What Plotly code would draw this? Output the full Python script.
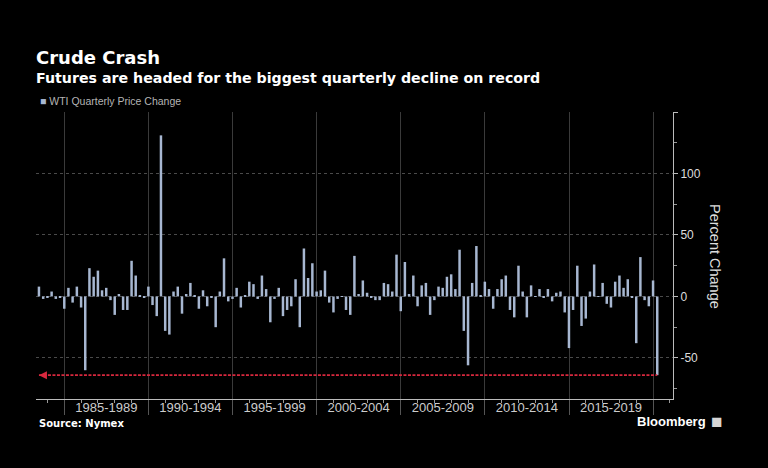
import pandas as pd
import plotly.graph_objects as go

# ---- data ----
first_quarter = "1983Q2"
last_quarter = "2020Q1"

wti_change_1983_1989 = [8, -2, -1, 4, -2, -1, -10, 7, -5, 8, -9, -60, 23, 16, 21, 5, 7, -3, -15,
                        2, -11, -11, 29, 17, 0.5, -0.7, 8]
wti_change_1990_1999 = [-7, -16, 131, -28, -31, 4, 8, -14, 2, 11, 0.5, -10, 5, -8, -1, -25, 4, 31,
                        -4, -2, 7, -9, 1, 12, 10, -2, 17, 6, -21, -2, 7, -16, -11, -8, 14, -25,
                        39, 15, 27, 4]
wti_change_2000_2009 = [5, 21, -5, -13, -2, -0.3, -11, -15, 33, 2, 13, 3, -0.5, -3, -3, 11, 10, 4,
                        34, -12, 28, 2, 17, -8, 9, 11, -15, -3, 8, 7, 16, 18, 6, 38, -28, -56,
                        11, 41, 1, 12]
wti_change_2010_2020 = [6, -10, 6, 14, 17, -11, -17, 25, 4, -17, 9, -0.4, 6, -0.7, 6, -4, 3, 4,
                        -13, -42, -11, 25, -24, -18, 4, 26, -0.2, 11, -6, -9, 12, 17, 7, 14, -1,
                        -38, 32, -3, -8, 13, -64]

period_starts = ["1985-01-01", "1990-01-01", "1995-01-01", "2000-01-01",
                 "2005-01-01", "2010-01-01", "2015-01-01", "2020-01-01"]
period_labels = ["1985-1989", "1990-1994", "1995-1999", "2000-2004",
                 "2005-2009", "2010-2014", "2015-2019", ""]
y_tick_values = [-50, 0, 50, 100, 150]
y_tick_labels = ["-50", "0", "50", "100", ""]

values = wti_change_1983_1989 + wti_change_1990_1999 + wti_change_2000_2009 + wti_change_2010_2020
quarters = pd.period_range(first_quarter, last_quarter, freq="Q")
dates = [p.end_time.normalize() for p in quarters]

BAR = "#a7b7d1"
RED = "#d8283e"
FONT = "Liberation Sans"
BOLD = "DejaVu Sans"

fig = go.Figure()
fig.add_trace(go.Bar(x=dates, y=values, marker=dict(color=BAR, line=dict(width=0)),
                     name="WTI Quarterly Price Change", hoverinfo="skip"))
fig.add_trace(go.Scatter(x=[dates[0], dates[-1]], y=[values[-1], values[-1]], mode="lines",
                         line=dict(color=RED, width=1.6, dash="3px,1.5px"), hoverinfo="skip"))

fig.add_annotation(x=dates[0], y=values[-1], xref="x", yref="y", ax=9, ay=0, text="",
                   showarrow=True, arrowhead=2, arrowsize=1, arrowwidth=1.6, arrowcolor=RED)

W, H = 768, 468
ML, MR, MT, MB = 36, 95, 112, 69
pw, ph = W - ML - MR, H - MT - MB


def px(xp):
    return (xp - ML) / pw


def py(yp):
    return (H - MB - yp) / ph


fig.add_annotation(xref="paper", yref="paper", x=px(34), y=py(57), xanchor="left", yanchor="middle",
                   text="<b>Crude Crash</b>", showarrow=False,
                   font=dict(family=BOLD, size=18, color="#ffffff"))
fig.add_annotation(xref="paper", yref="paper", x=px(34), y=py(78), xanchor="left", yanchor="middle",
                   text="<b>Futures are headed for the biggest quarterly decline on record</b>",
                   showarrow=False, font=dict(family=BOLD, size=14.2, color="#ffffff"))
fig.add_annotation(xref="paper", yref="paper", x=px(38), y=py(101.5), xanchor="left", yanchor="middle",
                   text=f"<span style='color:{BAR}'>■</span> WTI Quarterly Price Change",
                   showarrow=False, font=dict(family=FONT, size=10.5, color="#b4b4b4"))
fig.add_annotation(xref="paper", yref="paper", x=px(37), y=py(423), xanchor="left", yanchor="middle",
                   text="<b>Source: Nymex</b>", showarrow=False,
                   font=dict(family=BOLD, size=10, color="#ffffff"))
fig.add_annotation(xref="paper", yref="paper", x=px(635), y=py(421.5), xanchor="left", yanchor="middle",
                   text="<b>Bloomberg</b>", showarrow=False,
                   font=dict(family=FONT, size=13, color="#ffffff"))
fig.add_annotation(xref="paper", yref="paper", x=px(709), y=py(421.5), xanchor="left", yanchor="middle",
                   text="■", showarrow=False,
                   font=dict(family=FONT, size=19, color="#d6d6d6"))
fig.add_annotation(xref="paper", yref="paper", x=px(715), y=py(256), xanchor="center", yanchor="middle",
                   text="Percent Change", textangle=90, showarrow=False,
                   font=dict(family=FONT, size=14.5, color="#dddddd"))

fig.update_layout(
    width=W, height=H,
    margin=dict(l=ML, r=MR, t=MT, b=MB, pad=0),
    paper_bgcolor="#000000", plot_bgcolor="#000000",
    showlegend=False, bargap=0.4, hovermode=False,
    font=dict(family=FONT, color="#cccccc"),
    xaxis=dict(
        type="date", range=["1983-04-27", "2021-03-08"],
        tickmode="array", tickvals=period_starts, ticktext=period_labels,
        ticks="outside", ticklen=15, tickwidth=1, tickcolor="#555555",
        ticklabelshift=42, ticklabelstandoff=-19,
        tickfont=dict(family=FONT, size=13, color="#cccccc"),
        showgrid=True, gridcolor="#3a3a3a", gridwidth=1,
        showline=True, linecolor="#bbbbbb", linewidth=1,
        zeroline=False,
        minor=dict(tickmode="linear", tick0="1984-01-01", dtick="M12", ticks="outside",
                   ticklen=3, tickcolor="#999999", showgrid=False),
    ),
    yaxis=dict(
        side="right", range=[-83.4, 150],
        tickmode="array", tickvals=y_tick_values, ticktext=y_tick_labels,
        ticks="outside", ticklen=4, tickcolor="#bbbbbb",
        tickfont=dict(family=FONT, size=12, color="#dddddd"),
        showgrid=True, gridcolor="#4a4a4a", griddash="dot", gridwidth=1,
        showline=True, linecolor="#bbbbbb", linewidth=1,
        zeroline=False,
        minor=dict(tickmode="linear", tick0=0, dtick=25, ticks="outside", ticklen=3,
                   tickcolor="#999999", showgrid=False),
    ),
)

fig.write_html("out.html", config={"displayModeBar": False},
               post_script="document.body.style.margin='0';document.body.style.background='#000';")
